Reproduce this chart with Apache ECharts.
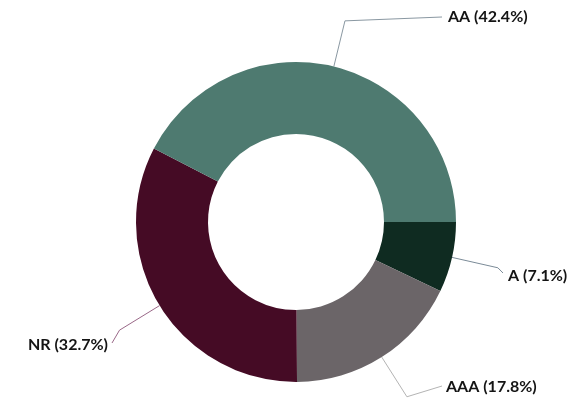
<!DOCTYPE html>
<html>
<head>
<meta charset="utf-8">
<script src="https://cdn.jsdelivr.net/npm/echarts@6/dist/echarts.min.js"></script>
<style>
html,body{margin:0;padding:0;background:#fff;}
#chart{width:586px;height:401px;}
</style>
</head>
<body>
<div id="chart"></div>
<script>
// Data (order: clockwise starting at 3 o'clock)
const categories = ['A', 'AAA', 'NR', 'AA'];
const shares = [7.1, 17.8, 32.7, 42.4];
const sliceColors = ['#0f2b21', '#6b6568', '#450b25', '#4e7a70'];
const lineColors = ['#7b8b98', '#b4b4b4', '#9a6888', '#8a98a2'];

// Label placement (layout only): end of leader line and text anchor
const labelPlacement = {
  'A':   { end: [503, 273], text: [508, 276], align: 'left' },
  'AAA': { end: [442, 386], text: [446, 387], align: 'left' },
  'NR':  { end: [112, 343], text: [108, 345], align: 'right' },
  'AA':  { end: [442, 17],  text: [448, 17],  align: 'left' }
};

const chart = echarts.init(document.getElementById('chart'), null, {renderer: 'canvas'});
chart.setOption({
  animation: false,
  backgroundColor: '#ffffff',
  series: [{
    type: 'pie',
    center: [296, 222],
    radius: [88, 160],
    startAngle: 0,
    clockwise: true,
    avoidLabelOverlap: false,
    data: categories.map((c, i) => ({
      name: c,
      value: shares[i],
      itemStyle: { color: sliceColors[i] },
      labelLine: { lineStyle: { color: lineColors[i] } }
    })),
    label: {
      show: true,
      position: 'outside',
      formatter: p => p.name + ' (' + p.value.toFixed(1) + '%)',
      color: '#141414',
      fontFamily: 'Lato',
      fontWeight: 'bold',
      fontSize: 16
    },
    labelLine: {
      show: true,
      length: 47,
      length2: 6,
      smooth: false,
      lineStyle: { width: 1 }
    },
    labelLayout: function (params) {
      const name = categories[params.dataIndex];
      const pl = labelPlacement[name];
      const pts = params.labelLinePoints;
      if (!pl || !pts) return {};
      return {
        x: pl.text[0],
        y: pl.text[1],
        align: pl.align,
        verticalAlign: 'middle',
        labelLinePoints: [pts[0], pts[1], pl.end]
      };
    },
    emphasis: { disabled: true }
  }]
});
</script>
</body>
</html>
